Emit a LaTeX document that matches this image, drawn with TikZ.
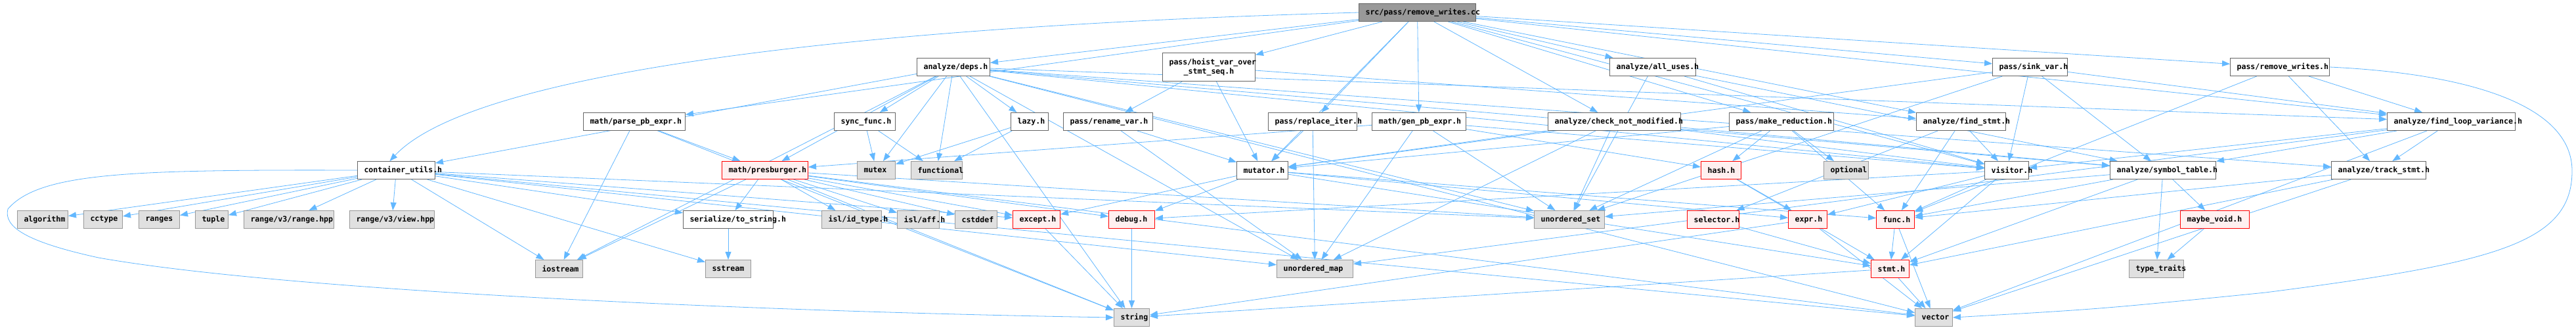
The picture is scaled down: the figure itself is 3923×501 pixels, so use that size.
\documentclass[tikz,border=0pt]{standalone}
\usepackage{fontspec}
\setmonofont{DejaVu Sans Mono}
\usetikzlibrary{arrows.meta}
\pgfdeclarelayer{bg}
\pgfsetlayers{bg,main}
\definecolor{edgec}{HTML}{63B8FF}
\definecolor{redfill}{HTML}{FFF0F0}
\definecolor{grayfill}{HTML}{E0E0E0}
\definecolor{graybd}{HTML}{999999}
\definecolor{nodebd}{HTML}{666666}
\tikzset{
  base/.style={rectangle, inner ysep=0pt, inner xsep=10pt, minimum height=27pt, align=left,
    font=\ttfamily\bfseries\fontsize{11.6}{14}\selectfont, anchor=north west, line width=1pt},
  wn/.style={base, draw=nodebd, fill=white},
  gn/.style={base, draw=graybd, fill=grayfill},
  rn/.style={base, draw=red, fill=redfill},
  rootn/.style={base, draw=nodebd, fill=graybd},
  ed/.style={draw=edgec, line width=0.8pt, -{Triangle[length=12pt,width=9pt]}}
}
\begin{document}
\begin{tikzpicture}[x=1pt,y=-1pt]
\useasboundingbox (0,0) rectangle (3923,501);
% row 0
\node[rootn, text width=158pt] (cc) at (2069,5) {src/pass/remove\_writes.cc};
% row 1
\node[wn, text width=91pt] (deps) at (1396,88) {analyze/deps.h};
\node[wn, text width=121pt, align=center, minimum height=43pt] (hoist) at (1770,80) {pass/hoist\_var\_over\\\_stmt\_seq.h};
\node[wn, text width=111pt] (alluses) at (2451,88) {analyze/all\_uses.h};
\node[wn, text width=94pt] (sink) at (3034,88) {pass/sink\_var.h};
\node[wn, text width=131pt] (rwh) at (3396,88) {pass/remove\_writes.h};
% row 2
\node[wn, text width=135pt] (parse) at (888,171) {math/parse\_pb\_expr.h};
\node[wn, text width=73pt] (sync) at (1270,171) {sync\_func.h};
\node[wn, text width=37pt] (lazy) at (1539,171) {lazy.h};
\node[wn, text width=116pt] (rename) at (1619,171) {pass/rename\_var.h};
\node[wn, text width=115pt] (repl) at (1931,171) {pass/replace\_iter.h};
\node[wn, text width=123pt] (gen) at (2089,171) {math/gen\_pb\_expr.h};
\node[wn, text width=182pt] (cnm) at (2357,171) {analyze/check\_not\_modified.h};
\node[wn, text width=139pt] (mkred) at (2633,171) {pass/make\_reduction.h};
\node[wn, text width=116pt] (fstmt) at (2918,171) {analyze/find\_stmt.h};
\node[wn, text width=175pt] (flv) at (3635,171) {analyze/find\_loop\_variance.h};
% row 3
\node[wn, text width=98pt] (cu) at (544,245) {container\_utils.h};
\node[rn, text width=111pt] (pres) at (1099,245) {math/presburger.h};
\node[gn, text width=38pt] (mutex) at (1305,245) {mutex};
\node[gn, text width=58pt] (functional) at (1387,245) {functional};
\node[wn, text width=58pt] (mutator) at (1883,245) {mutator.h};
\node[rn, text width=41pt] (hash) at (2590,245) {hash.h};
\node[gn, text width=48pt] (optional) at (2777,245) {optional};
\node[wn, text width=47pt] (visitor) at (3022,245) {visitor.h};
\node[wn, text width=141pt] (symtab) at (3213,245) {analyze/symbol\_table.h};
\node[wn, text width=124pt] (track) at (3550,245) {analyze/track\_stmt.h};
% row 4
\node[gn, text width=57pt] (algorithm) at (26,320) {algorithm};
\node[gn, text width=39pt] (cctype) at (127,320) {cctype};
\node[gn, text width=42pt] (ranges) at (211,320) {ranges};
\node[gn, text width=30pt] (tuple) at (297,320) {tuple};
\node[gn, text width=117pt] (rangehpp) at (371,320) {range/v3/range.hpp};
\node[gn, text width=109pt] (viewhpp) at (532,320) {range/v3/view.hpp};
\node[wn, text width=117pt] (tostr) at (1040,320) {serialize/to\_string.h};
\node[gn, text width=71pt] (idtype) at (1251,320) {isl/id\_type.h};
\node[gn, text width=44pt] (aff) at (1366,320) {isl/aff.h};
\node[gn, text width=44pt] (cstddef) at (1454,320) {cstddef};
\node[rn, text width=52pt] (except) at (1542,320) {except.h};
\node[rn, text width=50pt] (debug) at (1688,320) {debug.h};
\node[gn, text width=87pt] (uset) at (2336,320) {unordered\_set};
\node[rn, text width=59pt] (selector) at (2569,320) {selector.h};
\node[rn, text width=39pt] (expr) at (2723,320) {expr.h};
\node[rn, text width=38pt] (func) at (2857,320) {func.h};
\node[rn, text width=85pt] (maybe) at (3320,320) {maybe\_void.h};
% row 5
\node[gn, text width=52pt] (iostream) at (815,395) {iostream};
\node[gn, text width=49pt] (sstream) at (1074,395) {sstream};
\node[gn, text width=96pt] (umap) at (1944,395) {unordered\_map};
\node[rn, text width=38pt] (stmt) at (2849,395) {stmt.h};
\node[gn, text width=63pt] (ttraits) at (3242,395) {type\_traits};
% row 6
\node[gn, text width=34pt] (string) at (1696,469) {string};
\node[gn, text width=37pt] (vector) at (2916,469) {vector};

\begin{pgfonlayer}{bg}
\fill[white] (0,0) rectangle (3923,501);
\foreach \s/\t in {
 cc/deps, cc/hoist, cc/parse, cc/alluses, cc/sink, cc/rwh, cc/repl, cc/gen, cc/cnm,
 cc/mkred, cc/fstmt, cc/flv, cc/mutator, cc/visitor,
 deps/cu, deps/pres, deps/mutex, deps/functional, deps/sync, deps/lazy, deps/symtab, deps/flv,
 deps/track, deps/visitor, deps/iostream, deps/string, deps/umap, deps/uset, deps/vector,
 hoist/rename, hoist/mutator, hoist/fstmt,
 parse/pres, parse/iostream, parse/string,
 alluses/symtab, alluses/visitor, alluses/uset,
 sink/visitor, sink/mutator, sink/flv, sink/uset, sink/symtab,
 rwh/func, rwh/flv, rwh/track,
 flv/track, flv/symtab, flv/visitor, flv/umap, flv/vector,
 track/func, track/stmt, track/vector,
 symtab/maybe, symtab/ttraits, symtab/stmt, symtab/func, symtab/uset,
 maybe/ttraits,
 visitor/func, visitor/stmt, visitor/expr, visitor/debug,
 mutator/except, mutator/debug, mutator/func, mutator/stmt, mutator/expr,
 fstmt/visitor, fstmt/func, fstmt/selector,
 cnm/umap, cnm/uset, cnm/symtab, cnm/visitor, cnm/mutator,
 mkred/mutator, mkred/hash, mkred/optional, mkred/func, mkred/uset,
 gen/pres, gen/umap, gen/uset, gen/hash, gen/visitor,
 repl/mutator, repl/umap,
 rename/mutator, rename/umap,
 lazy/mutex, lazy/functional,
 sync/mutex, sync/functional,
 pres/tostr, pres/idtype, pres/aff, pres/cstddef, pres/except, pres/debug, pres/iostream,
 pres/string, pres/uset, pres/vector,
 cu/algorithm, cu/cctype, cu/ranges, cu/tuple, cu/rangehpp, cu/viewhpp, cu/iostream, cu/tostr,
 cu/except, cu/umap, cu/uset, cu/vector, cu/sstream,
 tostr/sstream, except/string, debug/string,
 hash/expr, hash/stmt,
 selector/stmt, expr/vector, expr/string,
 func/stmt, func/vector, stmt/vector, stmt/string}
 \draw[ed] (\s) -- (\t);
\draw[ed] (cc.west) .. controls (1300,40) and (720,110) .. ([xshift=-10pt]cu.north);
\draw[ed] (cu.west) .. controls (200,258) and (60,262) .. (12,318)
  .. controls (5,345) and (40,368) .. (150,392)
  .. controls (450,445) and (1200,475) .. (string.west);
\draw[ed] (rwh.east) .. controls (3760,112) and (3917,160) .. (3917,260)
  .. controls (3917,370) and (3800,400) .. (3450,445)
  .. controls (3200,470) .. (vector.east);
\end{pgfonlayer}
\end{tikzpicture}
\end{document}
